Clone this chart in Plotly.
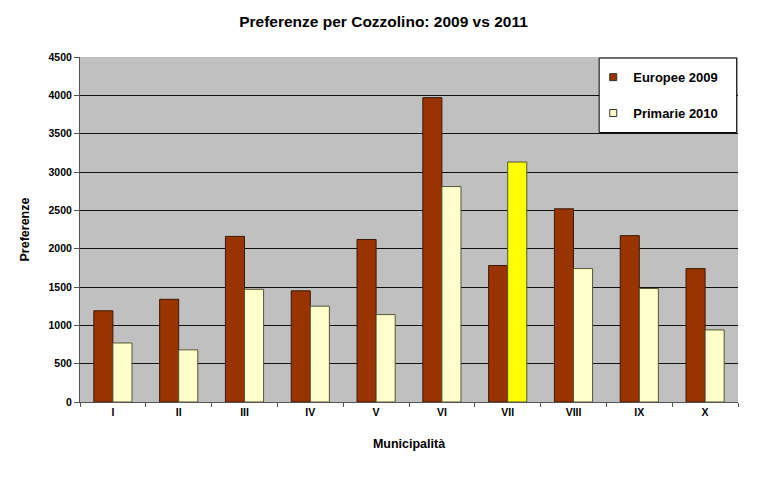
import plotly.graph_objects as go

categories = ["I", "II", "III", "IV", "V", "VI", "VII", "VIII", "IX", "X"]
europee_2009 = [1190, 1340, 2160, 1450, 2120, 3970, 1780, 2520, 2170, 1740]
primarie_2010 = [770, 680, 1470, 1250, 1140, 2810, 3130, 1740, 1480, 940]
primarie_colors = ["#FFFFCC"] * 6 + ["#FFFF00"] + ["#FFFFCC"] * 3
y_ticks = list(range(0, 4501, 500))

FONT = "Liberation Sans, Arial, sans-serif"

fig = go.Figure()
fig.add_trace(go.Bar(
    x=categories, y=europee_2009, name="Europee 2009",
    marker=dict(color="#993300", line=dict(color="#3a1a0a", width=1)),
    showlegend=False,
))
fig.add_trace(go.Bar(
    x=categories, y=primarie_2010, name="Primarie 2010",
    marker=dict(color=primarie_colors, line=dict(color="#555533", width=1)),
    showlegend=False,
))
# legend entries (small square keys like the original)
fig.add_trace(go.Scatter(
    x=[None], y=[None], mode="markers", name="Europee 2009",
    marker=dict(symbol="square", size=7, color="#993300", line=dict(color="#333", width=1)),
    legendgroup="a",
))
fig.add_trace(go.Scatter(
    x=[None], y=[None], mode="markers", name="Primarie 2010",
    marker=dict(symbol="square", size=7, color="#FFFFCC", line=dict(color="#333", width=1)),
    legendgroup="b",
))

fig.update_layout(
    width=767, height=478,
    margin=dict(l=80, r=29, t=57, b=76),
    paper_bgcolor="white",
    plot_bgcolor="#C0C0C0",
    barmode="group",
    bargap=0.42,
    bargroupgap=0,
    font=dict(family=FONT, color="black"),
    title=dict(text="Preferenze per Cozzolino: 2009 vs 2011",
               x=0.5, xref="container", xanchor="center",
               y=0.954, yanchor="middle",
               font=dict(size=15.5, weight="bold", family=FONT)),
    showlegend=True,
    legend=dict(x=0.78, xanchor="left", y=0.985, yanchor="top",
                bgcolor="rgba(0,0,0,0)", borderwidth=0,
                font=dict(size=13, weight="bold", family=FONT),
                tracegroupgap=16, traceorder="grouped"),
    shapes=[dict(type="rect", xref="paper", yref="paper",
                 x0=0.789, x1=0.998, y0=0.781, y1=0.997,
                 fillcolor="white", line=dict(color="black", width=1),
                 layer="above")],
)
fig.update_xaxes(
    title=dict(text="Municipalità", font=dict(size=12.5, weight="bold", family=FONT), standoff=22),
    tickfont=dict(size=10.5, weight="bold", family=FONT),
    tickson="boundaries", ticks="outside", ticklen=4, tickcolor="#555",
    showline=True, linecolor="#555", linewidth=1,
    showgrid=False,
)
fig.update_yaxes(
    title=dict(text="Preferenze", font=dict(size=12.5, weight="bold", family=FONT), standoff=16),
    tickfont=dict(size=10.5, weight="bold", family=FONT),
    range=[0, 4500], tickvals=y_ticks,
    ticks="outside", ticklen=5, tickcolor="#555",
    showline=True, linecolor="#555", linewidth=1,
    showgrid=True, gridcolor="#111", gridwidth=1,
    zeroline=False,
)

fig.write_html("out.html")
